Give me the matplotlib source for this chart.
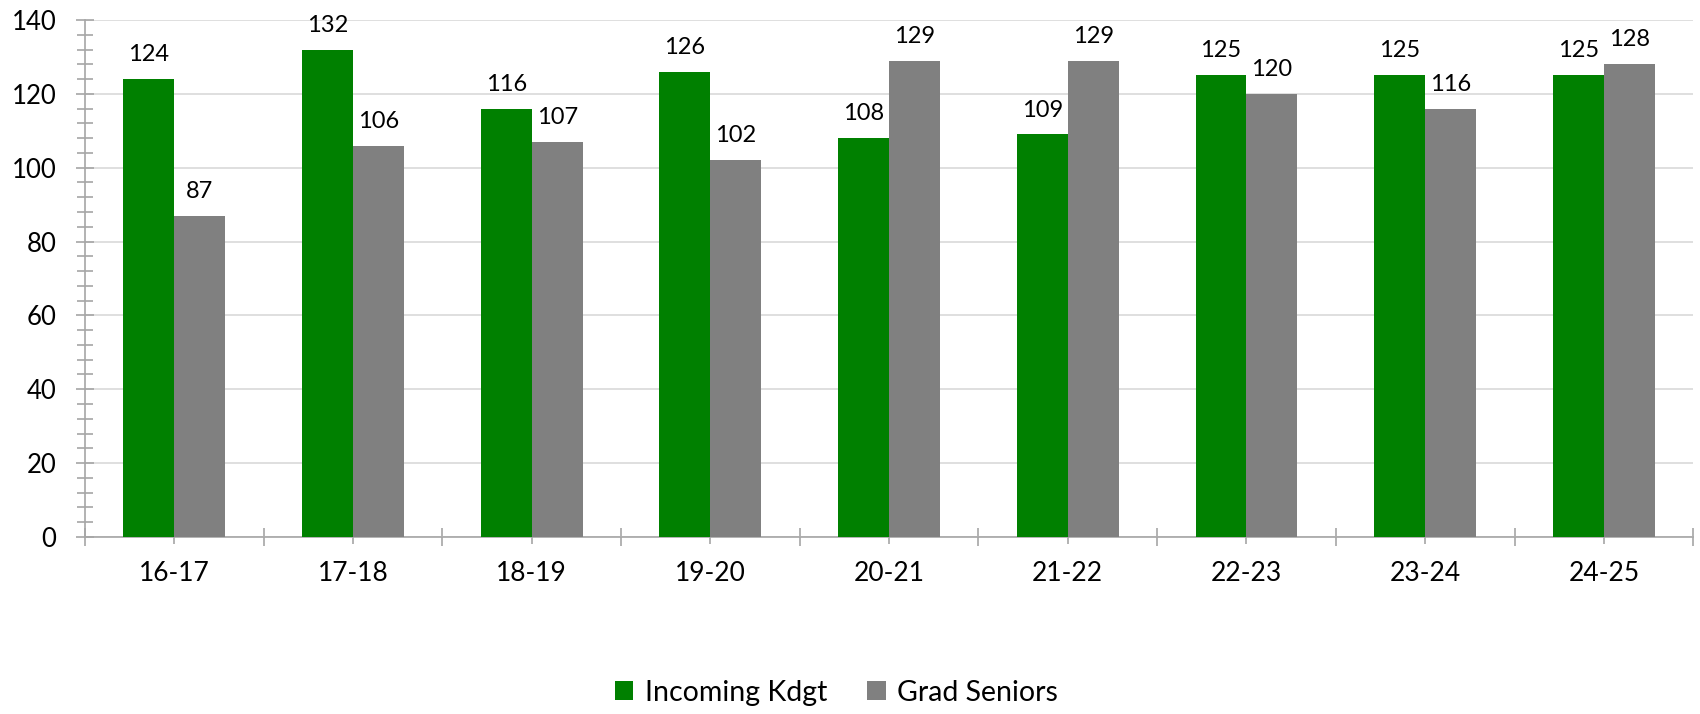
import matplotlib
matplotlib.use("Agg")
import matplotlib.pyplot as plt
import numpy as np
from matplotlib.ticker import MultipleLocator

plt.rcParams['font.family'] = ['Lato', 'DejaVu Sans']

years = ['16-17', '17-18', '18-19', '19-20', '20-21', '21-22', '22-23', '23-24', '24-25']
kdgt = [124, 132, 116, 126, 108, 109, 125, 125, 125]
seniors = [87, 106, 107, 102, 129, 129, 120, 116, 128]

green = '#008000'
grey = '#808080'
axcol = '#a6a6a6'

fig = plt.figure(figsize=(17, 7.14), dpi=100)
ax = fig.add_axes([0.05, 0.248, 0.946, 0.724])

x = np.arange(len(years))
width = 0.285
b1 = ax.bar(x - width/2, kdgt, width, color=green, label='Incoming Kdgt', zorder=3)
b2 = ax.bar(x + width/2, seniors, width, color=grey, label='Grad Seniors', zorder=3)

for bars in (b1, b2):
    for r in bars:
        ax.annotate(str(int(r.get_height())), (r.get_x() + r.get_width()/2, r.get_height()),
                    xytext=(0, 10), textcoords='offset points', ha='center', va='bottom',
                    fontsize=17, color='black')

ax.set_xlim(-0.5, len(years) - 0.5)
ax.set_ylim(0, 140)
ax.yaxis.set_major_locator(MultipleLocator(20))
ax.yaxis.set_minor_locator(MultipleLocator(4))
ax.grid(axis='y', which='major', color='#d9d9d9', linewidth=1.2, zorder=0)

# category boundaries get the long ticks, labels sit at the centres
ax.set_xticks(np.arange(-0.5, len(years), 1.0))
ax.set_xticklabels([])
ax.set_xticks(x, minor=True)
ax.set_xticklabels(years, minor=True)
ax.tick_params(axis='x', which='major', direction='inout', length=13, color=axcol, width=1.2)
ax.tick_params(axis='x', which='minor', direction='out', length=5, color=axcol, width=1.2,
               labelsize=19, pad=12)
ax.tick_params(axis='y', which='major', direction='inout', length=13, color=axcol, width=1.2,
               labelsize=18.5, pad=14)
ax.tick_params(axis='y', which='minor', direction='inout', length=11, color=axcol, width=1.2)

for s in ['top', 'right']:
    ax.spines[s].set_visible(False)
for s in ['left', 'bottom']:
    ax.spines[s].set_color(axcol)
    ax.spines[s].set_linewidth(1.2)

fig.legend(handles=[b1, b2], loc='center', bbox_to_anchor=(0.492, 0.03), ncol=2,
           frameon=False, fontsize=20.5, handlelength=0.65, handleheight=0.65,
           handletextpad=0.4, columnspacing=1.4)

plt.savefig('out.png', dpi=100)
